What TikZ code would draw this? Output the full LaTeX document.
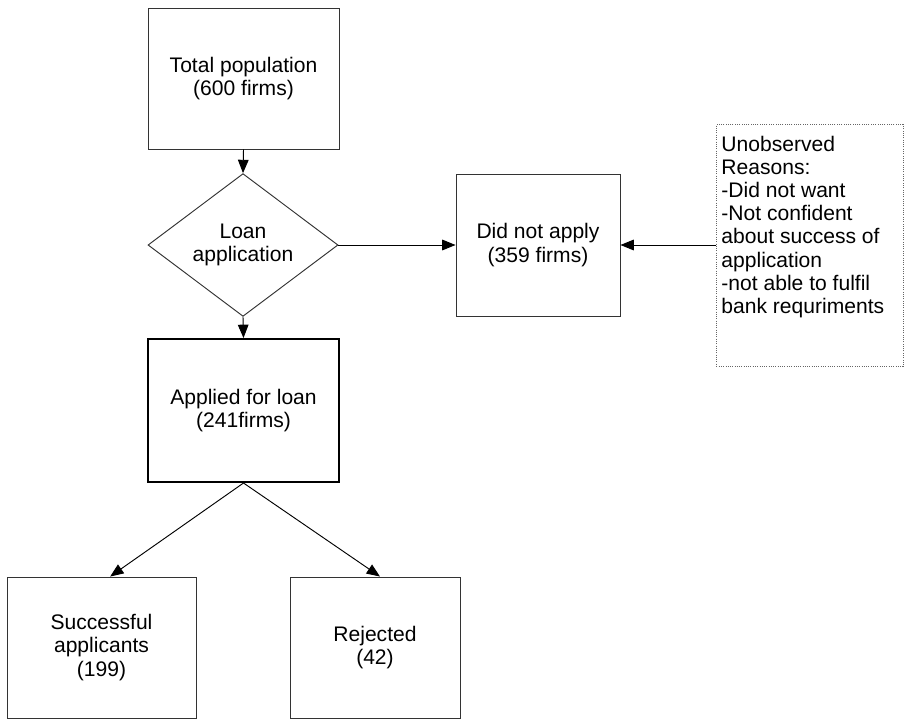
\documentclass[tikz,border=0pt]{standalone}
\usepackage{fontspec}
\setmainfont{Liberation Sans}
\usetikzlibrary{shapes.geometric,arrows.meta}
\begin{document}
\begin{tikzpicture}[x=0.75pt,y=-0.75pt,
  every node/.style={font=\fontsize{15.8}{17.4}\selectfont, align=center, inner sep=0pt},
  box/.style={draw=black!80, line width=0.7pt, rectangle},
  thickbox/.style={draw=black, line width=1.5pt, rectangle},
  dia/.style={draw=black!80, line width=0.7pt, diamond, minimum width=142.5pt, minimum height=105.75pt},
  conn/.style={-{Triangle[length=10pt,width=8pt]}, line width=0.7pt, draw=black}]
\useasboundingbox (0,0) rectangle (904,721);
\node[box, minimum width=143.25pt, minimum height=105.75pt] (total) at (243.5,78.5) {Total population\\(600 firms)};
\node[dia] (loan) at (243,245) {Loan\\application};
\node[box, minimum width=123pt, minimum height=106.5pt] (dna) at (538,245) {Did not apply\\(359 firms)};
\node[thickbox, minimum width=143.25pt, minimum height=107.25pt] (applied) at (243.5,410.5) {Applied for loan\\(241firms)};
\node[box, minimum width=141.75pt, minimum height=105.75pt] (succ) at (101.5,647.5) {Successful\\applicants\\(199)};
\node[box, minimum width=127.5pt, minimum height=105.75pt] (rej) at (375,647.5) {Rejected\\(42)};
\node[draw=black!60, densely dotted, line width=0.7pt, anchor=north west, inner xsep=3.75pt, inner ysep=4.5pt, align=left] (unobs) at (716,124)
  {\parbox[c][172.5pt][t]{132.5pt}{\raggedright\fontsize{15.8}{17.4}\selectfont\vspace*{4pt}Unobserved\\Reasons:\\-Did not want\\-Not confident\\about success of\\application\\-not able to fulfil\\bank requriments}};
\draw[conn] (total.south) -- (loan.north);
\draw[conn] (loan.south) -- (applied.north);
\draw[conn] (loan.east) -- (dna.west);
\draw[conn] (unobs.west |- dna.east) -- (dna.east);
\draw[conn] (applied.south) -- ([xshift=6.5pt]succ.north);
\draw[conn] (applied.south) -- ([xshift=3.75pt]rej.north);
\end{tikzpicture}
\end{document}
